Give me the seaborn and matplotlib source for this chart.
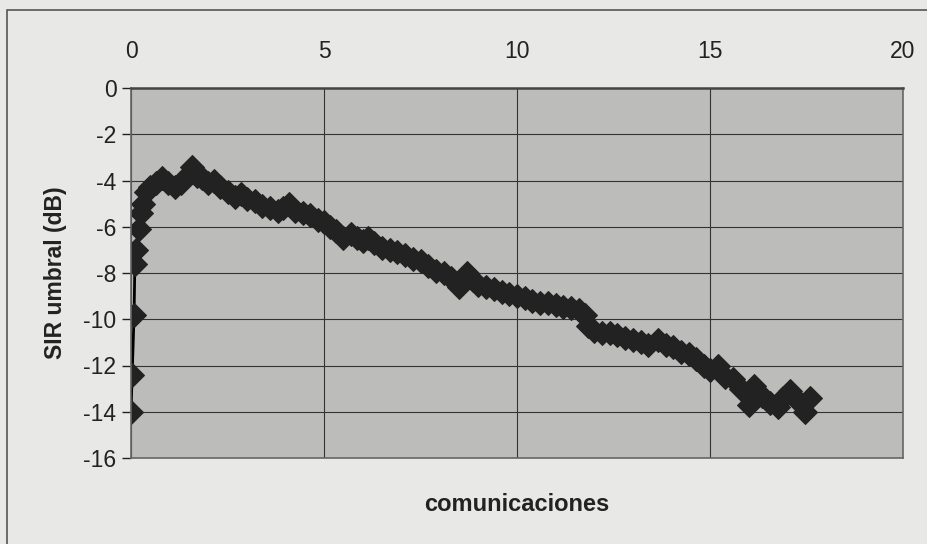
import numpy as np
import pandas as pd
import seaborn as sns
import matplotlib
matplotlib.use('Agg')
import matplotlib.pyplot as plt
from matplotlib.patches import Rectangle

# valores
comunicaciones = [0.00, 0.03, 0.08, 0.10, 0.14, 0.20, 0.25, 0.30, 0.38, 0.50,
                  0.65, 0.80, 0.95, 1.15, 1.30, 1.45, 1.57, 1.70, 1.85, 2.00,
                  2.15, 2.30, 2.50, 2.70, 2.85, 3.00, 3.20, 3.40, 3.60, 3.80,
                  3.95, 4.10, 4.25, 4.45, 4.65, 4.85, 5.00, 5.15, 5.30, 5.50,
                  5.70, 5.85, 6.00, 6.15, 6.30, 6.50, 6.70, 6.90, 7.10, 7.30,
                  7.50, 7.70, 7.90, 8.10, 8.30, 8.50, 8.70, 8.85, 9.00, 9.20,
                  9.40, 9.60, 9.80, 10.00, 10.20, 10.40, 10.60, 10.80, 11.00, 11.20,
                  11.40, 11.60, 11.75, 11.85, 12.00, 12.20, 12.40, 12.60, 12.80, 13.00,
                  13.20, 13.40, 13.65, 13.85, 14.05, 14.25, 14.45, 14.65, 14.85, 15.00,
                  15.20, 15.40, 15.60, 15.80, 16.00, 16.15, 16.35, 16.55, 16.75, 16.90,
                  17.07, 17.25, 17.45, 17.60]
sir_umbral = [-14.0, -12.4, -9.8, -7.6, -7.0, -6.1, -5.4, -5.0, -4.5, -4.3,
              -4.1, -3.9, -4.1, -4.3, -4.1, -3.8, -3.4, -3.8, -3.9, -4.1,
              -4.0, -4.3, -4.5, -4.7, -4.6, -4.8, -4.9, -5.1, -5.2, -5.3,
              -5.2, -5.0, -5.3, -5.4, -5.5, -5.7, -5.8, -6.0, -6.2, -6.5,
              -6.3, -6.5, -6.6, -6.5, -6.7, -6.9, -7.0, -7.1, -7.2, -7.4,
              -7.5, -7.7, -7.9, -8.0, -8.2, -8.6, -8.0, -8.3, -8.5, -8.6,
              -8.7, -8.8, -8.9, -9.0, -9.1, -9.2, -9.3, -9.3, -9.4, -9.45,
              -9.5, -9.6, -9.8, -10.3, -10.5, -10.6, -10.6, -10.7, -10.8, -10.9,
              -11.0, -11.1, -10.9, -11.1, -11.2, -11.4, -11.5, -11.7, -12.0, -12.2,
              -12.0, -12.5, -12.6, -13.0, -13.7, -12.9, -13.3, -13.6, -13.8, -13.4,
              -13.1, -13.5, -14.0, -13.4]
xticks = [0, 5, 10, 15, 20]
yticks = [0, -2, -4, -6, -8, -10, -12, -14, -16]

df = pd.DataFrame({'comunicaciones': comunicaciones, 'sir': sir_umbral})

sns.set_style('white')
plt.rcParams['font.family'] = ['Liberation Sans', 'DejaVu Sans']
plt.rcParams['axes.unicode_minus'] = False

fig = plt.figure(figsize=(9.27, 5.44), dpi=100, facecolor='#e8e8e6')
ax = fig.add_axes([131 / 927, 1 - 458 / 544, 772 / 927, 370 / 544])
ax.set_facecolor('#bcbcba')

# marco exterior
fig.patches.append(Rectangle((7 / 927, -0.05), 1.1, 1 - 10 / 544 + 0.05,
                             transform=fig.transFigure, fill=False,
                             edgecolor='#555555', linewidth=1.2))

sns.lineplot(data=df, x='comunicaciones', y='sir', sort=False, ax=ax,
             color='black', linewidth=2, marker='D', markersize=12.5,
             markerfacecolor='#222222', markeredgecolor='#222222')

ax.set_xlim(0, 20)
ax.set_ylim(-16, 0)
ax.set_xticks(xticks)
ax.set_yticks(yticks)
ax.xaxis.tick_top()
ax.tick_params(axis='x', length=0, pad=18, labelsize=16.5, colors='#222222')
ax.tick_params(axis='y', length=6.5, width=1, pad=4, labelsize=16.5,
               colors='#222222', left=True)
ax.grid(True, color='#333333', linewidth=0.8)

for s in ax.spines.values():
    s.set_color('#666666')
    s.set_linewidth(1.2)
ax.spines['top'].set_color('#444444')
ax.spines['top'].set_linewidth(1.8)

ax.set_xlabel('comunicaciones', fontsize=17, fontweight='bold', color='#222222')
ax.xaxis.set_label_position('bottom')
ax.xaxis.labelpad = 25
ax.set_ylabel('SIR umbral (dB)', fontsize=16.5, fontweight='bold', color='#222222')
ax.yaxis.labelpad = 12

fig.savefig('out.png', dpi=100, facecolor=fig.get_facecolor())
